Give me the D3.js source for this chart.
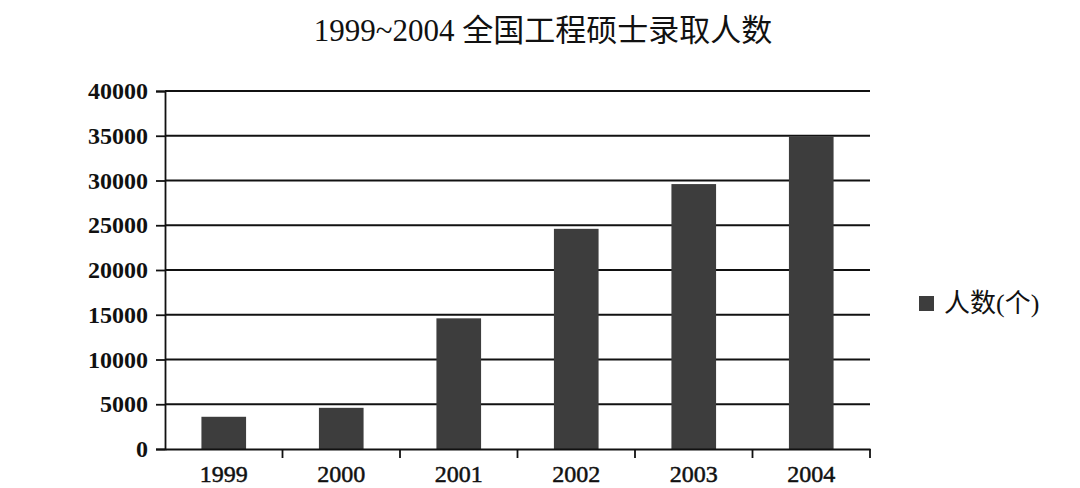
<!DOCTYPE html>
<html><head><meta charset="utf-8">
<script src="https://cdn.jsdelivr.net/npm/d3@7"></script>
<style>body{margin:0;background:#fff}svg{display:block}</style>
</head><body>
<script>
const categories = ["1999","2000","2001","2002","2003","2004"];
const values = [3600, 4600, 14600, 24600, 29600, 34900];
const yTicks = [0,5000,10000,15000,20000,25000,30000,35000,40000];
const title = "1999~2004 全国工程硕士录取人数";
const legendLabel = "人数(个)";

const W=1080,H=488;
const m={left:165,right:210,top:91,bottom:39};
const svg=d3.select("body").append("svg").attr("width",W).attr("height",H);
const x=d3.scaleBand().domain(categories).range([m.left,W-m.right]).paddingInner(0.62).paddingOuter(0.31);
const xb=d3.scaleBand().domain(categories).range([m.left,W-m.right]);
const y=d3.scaleLinear().domain([0,40000]).range([H-m.bottom,m.top]);
const serif="'Liberation Serif','Noto Sans CJK SC',serif";

svg.append("text").attr("x",543).attr("y",41).attr("text-anchor","middle")
  .attr("font-family",serif).attr("font-size",31).attr("fill","#111").text(title);

// gridlines
svg.append("g").selectAll("line").data(yTicks.filter(d=>d>0)).join("line")
  .attr("x1",m.left).attr("x2",W-m.right).attr("y1",d=>y(d)).attr("y2",d=>y(d))
  .attr("stroke","#111").attr("stroke-width",1.8);

// bars
svg.append("g").selectAll("rect").data(values).join("rect")
  .attr("x",(d,i)=>x(categories[i])).attr("width",x.bandwidth())
  .attr("y",d=>y(d)).attr("height",d=>y(0)-y(d)).attr("fill","#3d3d3d");

// y axis
const ya=svg.append("g").attr("transform",`translate(${m.left},0)`)
  .call(d3.axisLeft(y).tickValues(yTicks).tickSize(9).tickPadding(8).tickFormat(d3.format("d")));
ya.select(".domain").attr("stroke","#111").attr("stroke-width",1.8);
ya.selectAll(".tick line").attr("stroke","#111").attr("stroke-width",1.8);
ya.selectAll("text").attr("font-family",serif).attr("font-weight","bold").attr("font-size",24).attr("fill","#111");

// x axis
const xa=svg.append("g").attr("transform",`translate(0,${y(0)})`)
  .call(d3.axisBottom(xb).tickSize(0).tickPadding(16));
xa.select(".domain").attr("stroke","#111").attr("stroke-width",1.8);
xa.selectAll("text").attr("font-family",serif).attr("font-size",24).attr("fill","#111")
  .attr("stroke","#111").attr("stroke-width",0.5);
// separators between categories
svg.append("g").selectAll("line").data(categories.slice(1).concat(["end"])).join("line")
  .attr("x1",(d,i)=>m.left+xb.step()*(i+1)).attr("x2",(d,i)=>m.left+xb.step()*(i+1))
  .attr("y1",y(0)).attr("y2",y(0)+9).attr("stroke","#111").attr("stroke-width",1.8);

// legend
svg.append("rect").attr("x",919).attr("y",296).attr("width",15).attr("height",15).attr("fill","#3d3d3d");
svg.append("text").attr("x",944).attr("y",312).attr("font-family",serif).attr("font-size",26)
  .attr("fill","#111").text(legendLabel);
</script>
</body></html>
